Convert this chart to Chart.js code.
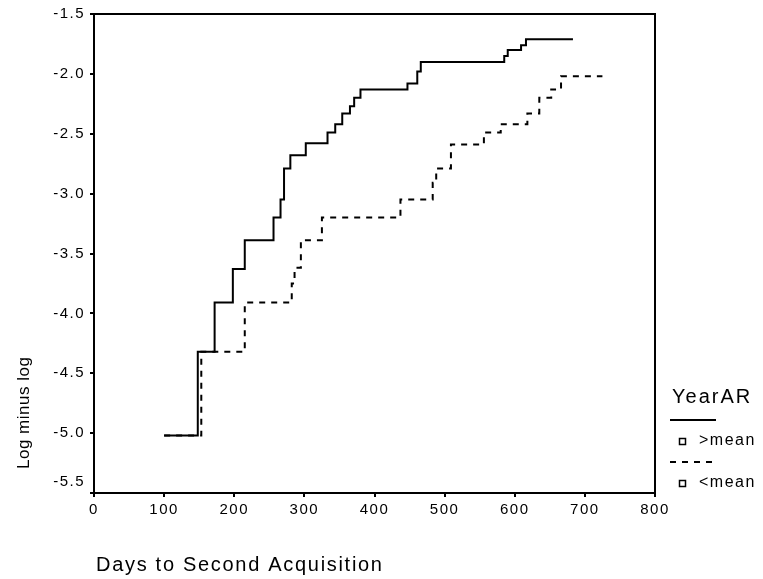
<!DOCTYPE html>
<html>
<head>
<meta charset="utf-8">
<script src="https://cdn.jsdelivr.net/npm/chart.js@4"></script>
<style>
html,body{margin:0;padding:0;background:#fff;}
#wrap{width:763px;height:579px;position:relative;}
</style>
</head>
<body>
<div id="wrap"><canvas id="c" width="763" height="579"></canvas></div>
<script>
// ---- data ----
const xTicks = [0, 100, 200, 300, 400, 500, 600, 700, 800];
const yTicks = [-5.5, -5.0, -4.5, -4.0, -3.5, -3.0, -2.5, -2.0, -1.5];
const seriesNames = ['>mean', '<mean'];
const legendTitle = 'YearAR';
const xTitle = 'Days to Second Acquisition';
const yTitle = 'Log minus log';

const aboveDays = [100, 148, 172, 198, 215, 256, 266, 271, 280, 302, 333, 344, 354, 365, 371, 380, 447, 461, 466, 585, 590, 609, 616, 683];
const aboveVals = [-5.02, -4.32, -3.91, -3.63, -3.39, -3.20, -3.05, -2.79, -2.68, -2.58, -2.49, -2.42, -2.33, -2.27, -2.20, -2.13, -2.08, -1.98, -1.90, -1.85, -1.80, -1.76, -1.71, -1.71];

const belowDays = [100, 153, 215, 282, 286, 295, 325, 437, 483, 488, 509, 556, 580, 618, 635, 652, 666, 725];
const belowVals = [-5.02, -4.32, -3.91, -3.75, -3.62, -3.39, -3.20, -3.05, -2.91, -2.79, -2.59, -2.49, -2.42, -2.33, -2.20, -2.13, -2.02, -2.02];

// ---- chart ----
const FONT = "'Liberation Sans', Arial, sans-serif";
Chart.defaults.font.family = FONT;
Chart.defaults.color = '#000';

const toPts = (xs, ys) => xs.map((x, i) => ({ x: x, y: ys[i] }));
const fmt = v => Number(v).toFixed(1);

const spacing = {
  id: 'spacing',
  beforeDraw(chart) {
    try { chart.ctx.letterSpacing = '1.5px'; } catch (e) {}
  }
};

const frame = {
  id: 'frame',
  afterDraw(chart) {
    const { ctx, chartArea: a } = chart;
    const ys = chart.scales.y;
    ctx.save();
    ctx.strokeStyle = '#000';
    ctx.lineWidth = 2;
    ctx.beginPath();
    ctx.moveTo(a.left, a.top);
    ctx.lineTo(a.right, a.top);
    ctx.lineTo(a.right, a.bottom);
    ctx.stroke();
    ctx.fillStyle = '#000';
    // lowest y label sits raised above the corner, as in the source
    try { ctx.letterSpacing = '1.5px'; } catch (e) {}
    ctx.font = '15px ' + FONT;
    ctx.textAlign = 'right';
    ctx.textBaseline = 'middle';
    ctx.fillText(fmt(yTicks[0]), a.left - 9, ys.getPixelForValue(yTicks[0]) - 11);
    // x title
    try { ctx.letterSpacing = '1.7px'; } catch (e) {}
    ctx.font = '20px ' + FONT;
    ctx.textAlign = 'left';
    ctx.fillText(xTitle, 96, 565);
    // y title (rotated)
    try { ctx.letterSpacing = '0.5px'; } catch (e) {}
    ctx.font = '17px ' + FONT;
    ctx.translate(24, 469);
    ctx.rotate(-Math.PI / 2);
    ctx.fillText(yTitle, 0, 0);
    ctx.restore();
  }
};

const legendPlugin = {
  id: 'customLegend',
  afterDraw(chart) {
    const ctx = chart.ctx;
    const ds = chart.data.datasets;
    ctx.save();
    ctx.fillStyle = '#000';
    ctx.strokeStyle = '#000';
    ctx.textBaseline = 'middle';
    ctx.textAlign = 'left';
    try { ctx.letterSpacing = '2px'; } catch (e) {}
    ctx.font = '20px ' + FONT;
    ctx.fillText(legendTitle, 672, 397);
    const rows = [420, 462];
    ds.forEach((d, i) => {
      const y = rows[i];
      ctx.lineWidth = 2;
      ctx.setLineDash(d.borderDash || []);
      ctx.beginPath();
      ctx.moveTo(670, y);
      ctx.lineTo(716, y);
      ctx.stroke();
      ctx.setLineDash([]);
      ctx.lineWidth = 1.5;
      ctx.strokeRect(679.5, y + 18.5, 6, 6);
      try { ctx.letterSpacing = '1.5px'; } catch (e) {}
      ctx.font = '16px ' + FONT;
      ctx.fillText(d.label, 699, y + 21);
    });
    ctx.restore();
  }
};

new Chart(document.getElementById('c'), {
  type: 'line',
  data: {
    datasets: [
      {
        label: seriesNames[0],
        data: toPts(aboveDays, aboveVals),
        borderColor: '#000',
        borderWidth: 2,
        stepped: 'before',
        pointRadius: 0,
        fill: false
      },
      {
        label: seriesNames[1],
        data: toPts(belowDays, belowVals),
        borderColor: '#000',
        borderWidth: 2,
        borderDash: [6, 6],
        stepped: 'before',
        pointRadius: 0,
        fill: false
      }
    ]
  },
  options: {
    responsive: false,
    animation: false,
    devicePixelRatio: 1,
    layout: { padding: { top: 13, right: 108, left: 0, bottom: 0 } },
    plugins: {
      legend: { display: false },
      tooltip: { enabled: false }
    },
    scales: {
      x: {
        type: 'linear',
        min: xTicks[0],
        max: xTicks[xTicks.length - 1],
        afterBuildTicks: s => { s.ticks = xTicks.map(v => ({ value: v })); },
        afterFit: s => { s.height = 86; },
        ticks: { font: { size: 15 }, color: '#000', padding: 4, maxRotation: 0, autoSkip: false },
        grid: { drawOnChartArea: false, tickLength: 4, color: '#000', lineWidth: 2 },
        border: { display: true, color: '#000', width: 2 }
      },
      y: {
        type: 'linear',
        min: yTicks[0],
        max: yTicks[yTicks.length - 1],
        afterBuildTicks: s => { s.ticks = yTicks.map(v => ({ value: v })); },
        afterFit: s => { s.width = 94; },
        ticks: { font: { size: 15 }, color: '#000', padding: 5, callback: v => (v === yTicks[0] ? '' : fmt(v)) },
        grid: { drawOnChartArea: false, tickLength: 4, color: '#000', lineWidth: 2 },
        border: { display: true, color: '#000', width: 2 }
      }
    }
  },
  plugins: [spacing, frame, legendPlugin]
});
</script>
</body>
</html>
